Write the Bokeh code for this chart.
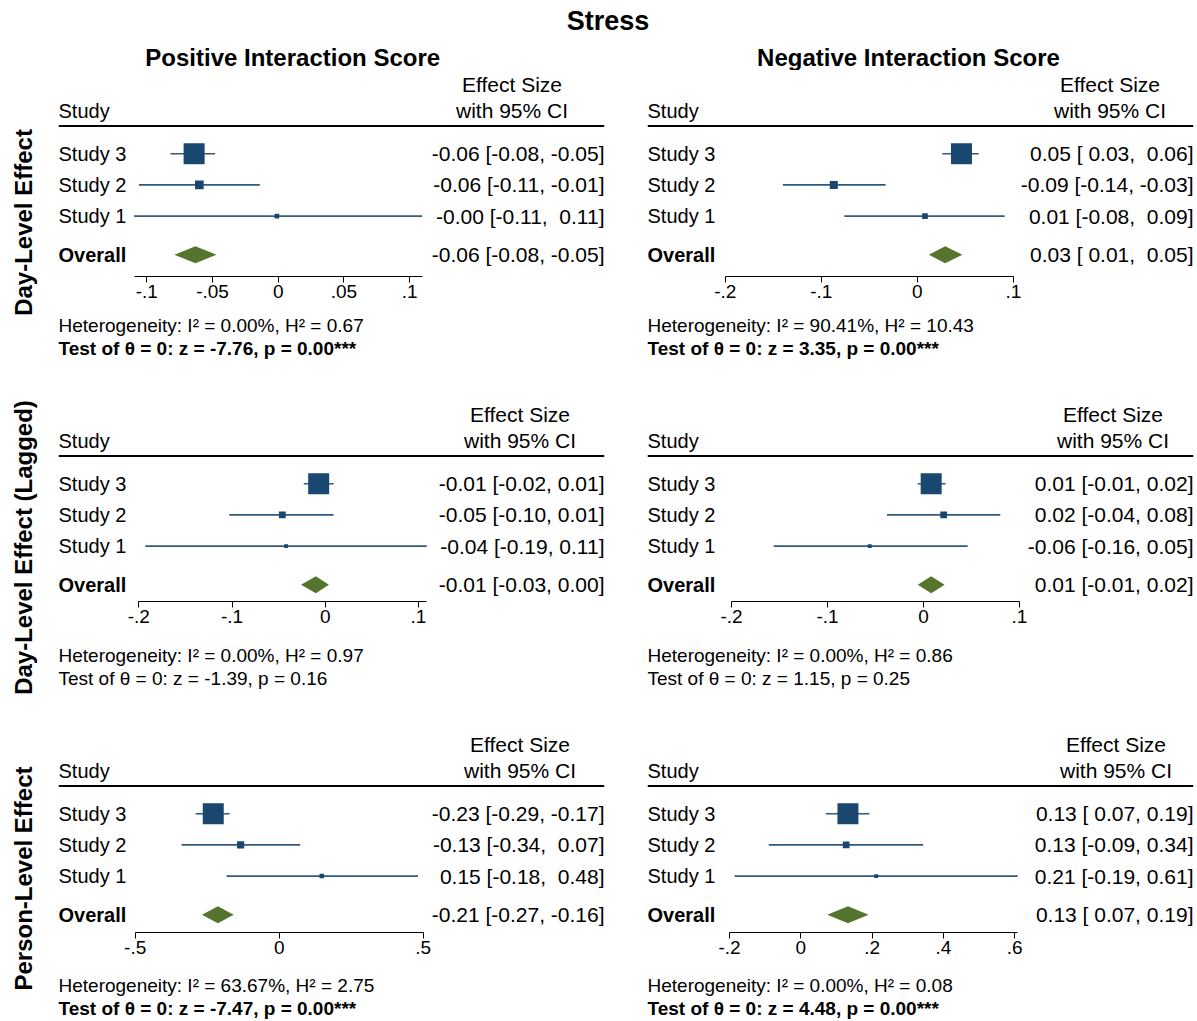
import math
from bokeh.plotting import figure
from bokeh.models import Range1d, LinearAxis, FixedTicker, ColumnDataSource
from bokeh.layouts import column, row
from bokeh.embed import file_html
from bokeh.resources import INLINE
from bokeh.core.properties import value

# ---------------- data ----------------
main_title = "Stress"
col_titles = ["Positive Interaction Score", "Negative Interaction Score"]
row_titles = ["Day-Level Effect", "Day-Level Effect (Lagged)", "Person-Level Effect"]
studies = ["Study 3", "Study 2", "Study 1"]
overall_name = "Overall"

# Positive interaction score - day-level effect
pos_day_est = [-0.064, -0.060, -0.001]
pos_day_lo = [-0.082, -0.106, -0.1096]
pos_day_hi = [-0.048, -0.014, 0.1096]
pos_day_weight = [82, 14, 4]
pos_day_overall = [-0.063, -0.079, -0.047]
pos_day_ticks = [-0.1, -0.05, 0.0, 0.05, 0.1]
pos_day_tick_labels = ["-.1", "-.05", "0", ".05", ".1"]

# Negative interaction score - day-level effect
neg_day_est = [0.046, -0.087, 0.008]
neg_day_lo = [0.026, -0.140, -0.076]
neg_day_hi = [0.064, -0.033, 0.091]
neg_day_weight = [82, 12, 6]
neg_day_overall = [0.029, 0.012, 0.047]
neg_day_ticks = [-0.2, -0.1, 0.0, 0.1]
neg_day_tick_labels = ["-.2", "-.1", "0", ".1"]

# Positive interaction score - day-level effect (lagged)
pos_lag_est = [-0.007, -0.046, -0.042]
pos_lag_lo = [-0.023, -0.103, -0.193]
pos_lag_hi = [0.009, 0.009, 0.109]
pos_lag_weight = [88, 9, 3]
pos_lag_overall = [-0.010, -0.026, 0.004]
pos_lag_ticks = [-0.2, -0.1, 0.0, 0.1]
pos_lag_tick_labels = ["-.2", "-.1", "0", ".1"]

# Negative interaction score - day-level effect (lagged)
neg_lag_est = [0.008, 0.021, -0.056]
neg_lag_lo = [-0.006, -0.038, -0.156]
neg_lag_hi = [0.023, 0.080, 0.046]
neg_lag_weight = [88, 9, 3]
neg_lag_overall = [0.008, -0.006, 0.022]
neg_lag_ticks = [-0.2, -0.1, 0.0, 0.1]
neg_lag_tick_labels = ["-.2", "-.1", "0", ".1"]

# Positive interaction score - person-level effect
pos_person_est = [-0.229, -0.134, 0.148]
pos_person_lo = [-0.290, -0.339, -0.183]
pos_person_hi = [-0.172, 0.073, 0.482]
pos_person_weight = [86, 10, 4]
pos_person_overall = [-0.213, -0.268, -0.158]
pos_person_ticks = [-0.5, 0.0, 0.5]
pos_person_tick_labels = ["-.5", "0", ".5"]

# Negative interaction score - person-level effect
neg_person_est = [0.132, 0.127, 0.211]
neg_person_lo = [0.070, -0.090, -0.186]
neg_person_hi = [0.192, 0.343, 0.608]
neg_person_weight = [88, 9, 3]
neg_person_overall = [0.132, 0.074, 0.190]
neg_person_ticks = [-0.2, 0.0, 0.2, 0.4, 0.6]
neg_person_tick_labels = ["-.2", "0", ".2", ".4", ".6"]

# heterogeneity / test statistics (TL, TR, ML, MR, BL, BR)
i2_pct = [0.00, 90.41, 0.00, 0.00, 63.67, 0.00]
h2_val = [0.67, 10.43, 0.97, 0.86, 2.75, 0.08]
z_stat = [-7.76, 3.35, -1.39, 1.15, -7.47, 4.48]
p_val = [0.00, 0.00, 0.16, 0.25, 0.00, 0.00]

panels = [
    dict(est=pos_day_est, lo=pos_day_lo, hi=pos_day_hi, w=pos_day_weight, ov=pos_day_overall,
         ticks=pos_day_ticks, tl=pos_day_tick_labels),
    dict(est=neg_day_est, lo=neg_day_lo, hi=neg_day_hi, w=neg_day_weight, ov=neg_day_overall,
         ticks=neg_day_ticks, tl=neg_day_tick_labels),
    dict(est=pos_lag_est, lo=pos_lag_lo, hi=pos_lag_hi, w=pos_lag_weight, ov=pos_lag_overall,
         ticks=pos_lag_ticks, tl=pos_lag_tick_labels),
    dict(est=neg_lag_est, lo=neg_lag_lo, hi=neg_lag_hi, w=neg_lag_weight, ov=neg_lag_overall,
         ticks=neg_lag_ticks, tl=neg_lag_tick_labels),
    dict(est=pos_person_est, lo=pos_person_lo, hi=pos_person_hi, w=pos_person_weight, ov=pos_person_overall,
         ticks=pos_person_ticks, tl=pos_person_tick_labels),
    dict(est=neg_person_est, lo=neg_person_lo, hi=neg_person_hi, w=neg_person_weight, ov=neg_person_overall,
         ticks=neg_person_ticks, tl=neg_person_tick_labels),
]

# ---------------- layout / style ----------------
FONT = "Liberation Sans"
NAVY = "#1a476f"
GREEN = "#55752f"
W = 1197
HDR_H = 70
ROW_H = [330, 330, 291]
LBL_W = 40
MAIN_H = 240
AXIS_REL = [206, 201, 202]
FRAME_W = 546
LEFT_FIG_W, LEFT_BL, LEFT_BR = 580, 18, 16
RIGHT_FIG_W, RIGHT_BL, RIGHT_BR = 577, 27, 4
AXIS_PX = 288
AXIS_START = [75.7, 77.8, 80.3, 84.0, 76.7, 82.1]
HEAD_CENTER_FROM_RIGHT = [92.5, 83.5, 84.5, 80.5, 84.5, 77.5]
ROW_LABEL_Y = [152, 147, 148]
STUDY_Y0, STUDY_PITCH, OVERALL_Y = 83.2, 31.2, 184.3
HEADER_LINE_Y = 55.5
DIAMOND_HALF_H = 8.5
MAX_SQUARE = 21
PAD = "\u00a0"  # non-breaking space so that column padding survives in SVG


def base_fig(w, h, xr, yr, l=0, r=0, t=0, b=0):
    p = figure(width=int(w), height=int(h), x_range=xr, y_range=yr, x_axis_type=None, y_axis_type=None,
               toolbar_location=None, output_backend="svg", outline_line_color=None,
               min_border_left=int(l), min_border_right=int(r), min_border_top=int(t),
               min_border_bottom=int(b))
    p.background_fill_color = "white"
    p.border_fill_color = "white"
    return p


def put_text(p, xs, ys, texts, size, align="left", bold=False, angle=0.0):
    src = ColumnDataSource(dict(x=list(xs), y=list(ys), t=list(texts)))
    p.text(x="x", y="y", text="t", source=src, text_font=value(FONT), text_font_size=value(size),
           text_align=align, text_baseline="middle", text_font_style="bold" if bold else "normal",
           angle=angle, text_color="black")


def fmt_col(vals):
    s = ["%.2f" % v for v in vals]
    n = max(len(t) for t in s)
    return [t.rjust(n, PAD) for t in s]


def make_panel(k, rowi, side):
    d = panels[k]
    est_all = d["est"] + [d["ov"][0]]
    lo_all = d["lo"] + [d["ov"][1]]
    hi_all = d["hi"] + [d["ov"][2]]
    lo_s = fmt_col(lo_all)
    hi_s = fmt_col(hi_all)
    es_text = ["%.2f [%s, %s]" % (e, l, h) for e, l, h in zip(est_all, lo_s, hi_s)]

    axis_rel = AXIS_REL[rowi]
    b0 = min(d["ticks"][0], min(lo_all))
    b1 = max(d["ticks"][-1], max(hi_all))
    a = AXIS_START[k]
    kk = (b1 - b0) / AXIS_PX
    est_range = Range1d(b0 - a * kk, b0 + (FRAME_W - a) * kk)

    if side == 0:
        fw, bl, br = LEFT_FIG_W, LEFT_BL, LEFT_BR
    else:
        fw, bl, br = RIGHT_FIG_W, RIGHT_BL, RIGHT_BR
    p = base_fig(fw, MAIN_H, Range1d(0, FRAME_W), Range1d(axis_rel, 0), l=bl, r=br, t=0,
                 b=MAIN_H - axis_rel)
    p.extra_x_ranges = {"est": est_range}

    ys = [STUDY_Y0 + i * STUDY_PITCH for i in range(len(studies))]
    wmax = max(d["w"])
    sizes = [MAX_SQUARE * math.sqrt(w / wmax) for w in d["w"]]
    src = ColumnDataSource(dict(est=d["est"], lo=d["lo"], hi=d["hi"], y=ys, size=sizes))

    # header
    p.segment(x0=0, y0=HEADER_LINE_Y, x1=FRAME_W, y1=HEADER_LINE_Y, line_color="black", line_width=2)
    hc = FRAME_W - HEAD_CENTER_FROM_RIGHT[k]
    put_text(p, [0], [40], ["Study"], "20px")
    put_text(p, [hc, hc], [14, 40], ["Effect Size", "with 95% CI"], "21px", align="center")

    # CI lines and squares
    p.segment(x0="lo", y0="y", x1="hi", y1="y", source=src, x_range_name="est",
              line_color=NAVY, line_width=1.6, line_alpha=0.9)
    p.scatter(x="est", y="y", size="size", marker="square", source=src, x_range_name="est",
              fill_color=NAVY, line_color=None)
    # overall diamond
    ov = d["ov"]
    p.patch(x=[ov[1], ov[0], ov[2], ov[0]],
            y=[OVERALL_Y, OVERALL_Y - DIAMOND_HALF_H, OVERALL_Y, OVERALL_Y + DIAMOND_HALF_H],
            x_range_name="est", fill_color=GREEN, line_color=None)

    # labels
    put_text(p, [0] * len(studies), ys, studies, "20px")
    put_text(p, [0], [OVERALL_Y], [overall_name], "20px", bold=True)
    put_text(p, [FRAME_W] * 4, ys + [OVERALL_Y], es_text, "21px", align="right")

    ax = LinearAxis(x_range_name="est", ticker=FixedTicker(ticks=d["ticks"]),
                    major_label_overrides={t: s for t, s in zip(d["ticks"], d["tl"])},
                    bounds=(b0, b1))
    ax.axis_line_color = "black"
    ax.axis_line_width = 1
    ax.major_tick_line_color = "black"
    ax.major_tick_out = 6
    ax.major_tick_in = 0
    ax.minor_tick_line_color = None
    ax.major_label_text_font = FONT
    ax.major_label_text_font_size = "19px"
    ax.major_label_text_color = "black"
    ax.major_label_standoff = 2
    p.add_layout(ax, "below")
    return p


def stat_lines(k):
    stars = "***" if p_val[k] < 0.001 else ("**" if p_val[k] < 0.01 else ("*" if p_val[k] < 0.05 else ""))
    het = "Heterogeneity: I\u00b2 = %.2f%%, H\u00b2 = %.2f" % (i2_pct[k], h2_val[k])
    test = "Test of \u03b8 = 0: z = %.2f, p = %.2f%s" % (z_stat[k], p_val[k], stars)
    return het, test, p_val[k] < 0.05


# header figure
hdr = base_fig(W, HDR_H, Range1d(0, W), Range1d(HDR_H, 0))
put_text(hdr, [607.5], [20], [main_title], "27px", align="center", bold=True)
put_text(hdr, [292.2, 908], [57, 57], col_titles, "24px", align="center", bold=True)

rows = [hdr]
for r in range(3):
    rh = ROW_H[r]
    lbl = base_fig(LBL_W, rh, Range1d(0, LBL_W), Range1d(rh, 0))
    put_text(lbl, [22.7], [ROW_LABEL_Y[r]], [row_titles[r]], "24px", align="center", bold=True,
             angle=math.pi / 2)
    left = make_panel(2 * r, r, 0)
    right = make_panel(2 * r + 1, r, 1)
    fh = rh - MAIN_H
    foot = base_fig(W - LBL_W, fh, Range1d(LBL_W, W), Range1d(fh, 0))
    for side, x0 in ((0, 58), (1, 647)):
        het, test, sig = stat_lines(2 * r + side)
        put_text(foot, [x0], [15.3], [het], "19px")
        put_text(foot, [x0], [38.3], [test], "19px", bold=sig)
    rows.append(row(lbl, column(row(left, right), foot)))

layout = column(*rows)
open("out.html", "w").write(file_html(layout, INLINE, title="Stress forest plots"))
